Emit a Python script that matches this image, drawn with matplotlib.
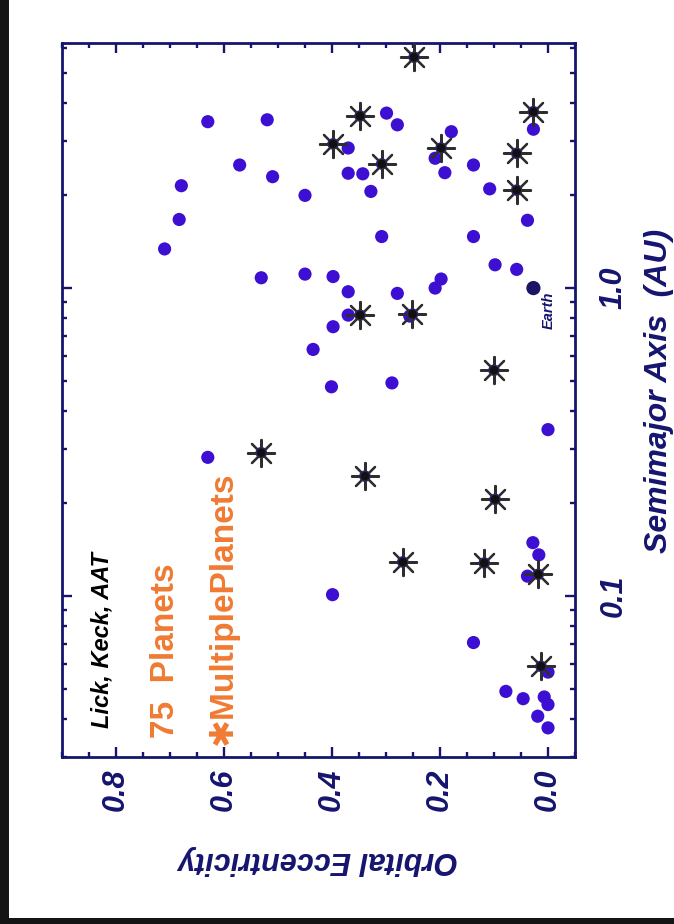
import matplotlib
matplotlib.use("Agg")
import matplotlib.pyplot as plt
from matplotlib.patches import Rectangle
from matplotlib.ticker import LogLocator, MultipleLocator, NullFormatter

# Single-planet systems: orbital eccentricity and semimajor axis (AU)
single_ecc = [0.630, 0.520, 0.571, 0.510, 0.679, 0.450, 0.683, 0.710, 0.531, 0.450, 0.435,
              0.299, 0.279, 0.370, 0.370, 0.343, 0.328, 0.179, 0.209, 0.191, 0.138, 0.108,
              0.027, 0.038, 0.308, 0.138, 0.098, 0.058,
              0.398, 0.370, 0.279, 0.198, 0.209, 0.370, 0.256, 0.398, 0.401, 0.289,
              0.630, 0.000, 0.399, 0.028, 0.017, 0.038, 0.138, 0.000, 0.078, 0.046,
              0.007, 0.000, 0.019, 0.000]
single_a = [3.47, 3.52, 2.51, 2.30, 2.15, 2.00, 1.67, 1.34, 1.08, 1.11, 0.632,
            3.70, 3.39, 2.85, 2.36, 2.35, 2.06, 3.22, 2.64, 2.37, 2.51, 2.10,
            3.28, 1.66, 1.47, 1.47, 1.19, 1.15,
            1.09, 0.973, 0.961, 1.07, 1.00, 0.817, 0.811, 0.749, 0.478, 0.492,
            0.282, 0.347, 0.101, 0.149, 0.136, 0.116, 0.0706, 0.0566, 0.049, 0.0464,
            0.047, 0.0444, 0.0407, 0.0373]

# Members of multiple-planet systems
multi_ecc = [0.248, 0.348, 0.398, 0.308, 0.198, 0.027, 0.058, 0.058, 0.348, 0.251,
             0.100, 0.531, 0.339, 0.098, 0.269, 0.118, 0.018, 0.013]
multi_a = [5.62, 3.62, 2.94, 2.53, 2.85, 3.74, 2.74, 2.08, 0.817, 0.823,
           0.541, 0.292, 0.245, 0.206, 0.129, 0.128, 0.1176, 0.0591]

earth_ecc = [0.027]
earth_a = [1.0]

ecc_ticks = [0.0, 0.2, 0.4, 0.6, 0.8]
ecc_tick_labels = ["0.0", "0.2", "0.4", "0.6", "0.8"]
a_ticks = [0.1, 1.0]
a_tick_labels = ["0.1", "1.0"]

NAVY = "#15156f"
ORANGE = "#f07a32"
PLANET = "#3c0fd2"
FAM = ["Liberation Sans", "DejaVu Sans"]

fig = plt.figure(figsize=(6.74, 9.24), dpi=100)
fig.patch.set_facecolor("white")
# dark frame strips along the left and bottom edges
fig.patches.append(Rectangle((0, 0), 9 / 674, 1, transform=fig.transFigure,
                             facecolor="#141414", edgecolor="none", zorder=-1))
fig.patches.append(Rectangle((0, 0), 1, 6 / 924, transform=fig.transFigure,
                             facecolor="#141414", edgecolor="none", zorder=-1))

ax = fig.add_axes([62 / 674, 167 / 924, 513 / 674, 714 / 924])
ax.set_yscale("log")
ax.set_xlim(0.90, -0.05)
ax.set_ylim(0.03, 6.25)

# planets
ax.scatter(single_ecc, single_a, s=90, c=PLANET, edgecolors="none", zorder=3)
ax.scatter(multi_ecc, multi_a, s=70, c=PLANET, edgecolors="none", zorder=3)
ax.scatter(multi_ecc, multi_a, s=380, marker=(8, 2, 0), c="#2e2e2e",
           linewidths=1.6, zorder=4)
ax.scatter(multi_ecc, multi_a, s=38, c="#111111", edgecolors="none", zorder=5)
ax.scatter(earth_ecc, earth_a, s=105, c="#1c1466", edgecolors="none", zorder=3)
ax.annotate("Earth", xy=(earth_ecc[0], earth_a[0]), xytext=(11, -16),
            textcoords="offset points", rotation=90, ha="center", va="center",
            fontsize=10.5, fontweight="bold", fontstyle="italic", color=NAVY,
            family=FAM)

# axes styling
for sp in ax.spines.values():
    sp.set_linewidth(2.0)
    sp.set_color(NAVY)

ax.set_xticks(ecc_ticks)
ax.set_xticklabels(ecc_tick_labels, rotation=90, fontsize=22, fontweight="bold",
                   fontstyle="italic", color=NAVY, family=FAM)
ax.xaxis.set_minor_locator(MultipleLocator(0.05))

ax.set_yticks(a_ticks)
ax.set_yticklabels(a_tick_labels, rotation=90, fontsize=22, fontweight="bold",
                   fontstyle="italic", color=NAVY, family=FAM, va="center")
ax.yaxis.set_minor_locator(LogLocator(base=10, subs=range(2, 10), numticks=20))
ax.yaxis.set_minor_formatter(NullFormatter())

ax.tick_params(which="both", direction="in", top=True, bottom=True, left=True,
               right=True, labelleft=False, labelright=True, color=NAVY, width=1.7)
ax.tick_params(which="major", length=7.5)
ax.tick_params(which="minor", length=3.8)
ax.tick_params(axis="x", pad=8)
ax.tick_params(axis="y", pad=17)

ax.set_xlabel("Orbital Eccentricity", fontsize=22, fontweight="bold",
              fontstyle="italic", color=NAVY, rotation=180, family=FAM)
ax.xaxis.set_label_coords(0.5, -0.144)
ax.xaxis.label.set_verticalalignment("center")
ax.xaxis.label.set_horizontalalignment("center")

ax.yaxis.set_label_position("right")
ax.set_ylabel("Semimajor Axis  (AU)", fontsize=23, fontweight="bold",
              fontstyle="italic", color=NAVY, rotation=90, family=FAM)
ax.yaxis.set_label_coords(1.164, 0.513)
ax.yaxis.label.set_verticalalignment("center")
ax.yaxis.label.set_horizontalalignment("center")

# annotations
ax.text(0.077, 0.041, "Lick, Keck, AAT", transform=ax.transAxes, rotation=90,
        rotation_mode="anchor", ha="left", va="center", fontsize=17,
        fontweight="bold", fontstyle="italic", color="black", family=FAM)
ax.text(0.2008, 0.027, "75  Planets", transform=ax.transAxes, rotation=90,
        rotation_mode="anchor", ha="left", va="center", fontsize=24,
        fontweight="bold", color=ORANGE, family=FAM)
ax.text(0.314, 0.017, "\u2731MultiplePlanets", transform=ax.transAxes, rotation=90,
        rotation_mode="anchor", ha="left", va="center", fontsize=24,
        fontweight="bold", color=ORANGE, family=FAM)

fig.savefig("out.png", dpi=100, facecolor="white")
